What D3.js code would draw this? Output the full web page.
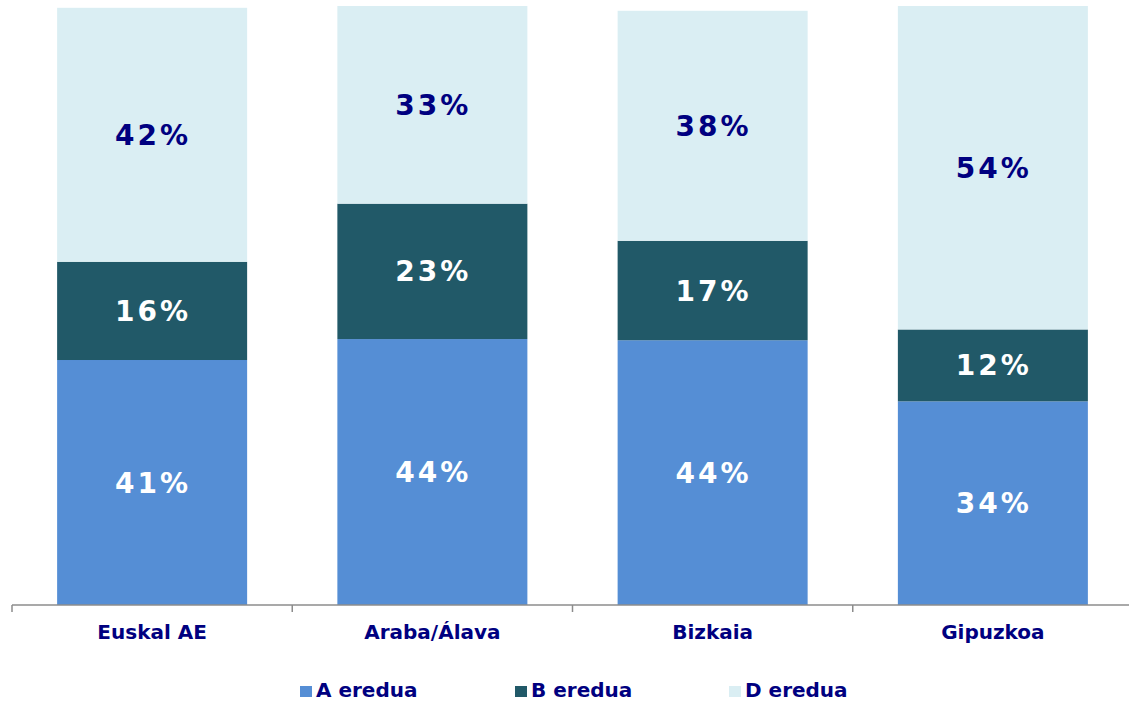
<!DOCTYPE html>
<html>
<head>
<meta charset="utf-8">
<script src="https://cdn.jsdelivr.net/npm/d3@7"></script>
<style>
  html, body { margin: 0; padding: 0; background: #fff; }
  svg { display: block; font-family: "DejaVu Sans", Verdana, sans-serif; }
</style>
</head>
<body>
<svg id="chart" width="1129" height="702"></svg>
<script>
// ---- data ----
const categories = ["Euskal AE", "Araba/Álava", "Bizkaia", "Gipuzkoa"];
const seriesNames = ["A eredua", "B eredua", "D eredua"];
const aEredua = [40.9, 44.4, 44.2, 34.0];
const bEredua = [16.4, 22.6, 16.6, 12.0];
const dEredua = [42.4, 33.0, 38.4, 54.0];
const yDomain = [0, 100];

// ---- styling ----
const colors = ["#558ED5", "#215968", "#DAEEF3"];
const labelColors = ["#ffffff", "#ffffff", "#000080"];

const rows = categories.map((c, i) => ({
  cat: c, "A eredua": aEredua[i], "B eredua": bEredua[i], "D eredua": dEredua[i]
}));
const stack = d3.stack().keys(seriesNames)(rows);

const svg = d3.select("#chart");
const x = d3.scaleBand().domain(categories).range([12, 1133])
  .paddingInner(0.322).paddingOuter(0.161);
const y = d3.scaleLinear().domain(yDomain).range([605, 6]);

// bars
const layers = svg.append("g").selectAll("g").data(stack).join("g")
  .attr("fill", (d, i) => colors[i]);
layers.selectAll("rect").data(d => d).join("rect")
  .attr("x", d => x(d.data.cat))
  .attr("width", x.bandwidth())
  .attr("y", d => y(d[1]))
  .attr("height", d => y(d[0]) - y(d[1]));

// value labels
const lbl = svg.append("g").selectAll("g").data(stack).join("g")
  .attr("fill", (d, i) => labelColors[i]);
lbl.selectAll("text").data(d => d).join("text")
  .attr("x", d => x(d.data.cat) + x.bandwidth() / 2 + 1)
  .attr("y", d => (y(d[0]) + y(d[1])) / 2)
  .attr("dy", "0.36em")
  .attr("text-anchor", "middle")
  .attr("font-size", 28)
  .attr("font-weight", "bold")
  .attr("letter-spacing", 3)
  .text(d => Math.round(d[1] - d[0]) + "%");

// x axis: baseline line with ticks at band boundaries
const axisG = svg.append("g").attr("transform", "translate(0,605)");
const step = x.step();
const bounds = d3.range(categories.length + 1).map(i => 12 + i * step);
axisG.append("line")
  .attr("x1", 12).attr("x2", 1133).attr("y1", 0).attr("y2", 0)
  .attr("stroke", "#8C8C8C").attr("stroke-width", 1.5);
axisG.selectAll("line.tick").data(bounds).join("line")
  .attr("class", "tick")
  .attr("x1", d => d).attr("x2", d => d)
  .attr("y1", 0).attr("y2", 7)
  .attr("stroke", "#8C8C8C").attr("stroke-width", 1.5);
axisG.selectAll("text").data(categories).join("text")
  .attr("x", d => x(d) + x.bandwidth() / 2)
  .attr("y", 34)
  .attr("text-anchor", "middle")
  .attr("font-size", 20)
  .attr("font-weight", "bold")
  .attr("fill", "#000080")
  .text(d => d);

// legend
const legendX = [300, 515, 729];
const leg = svg.append("g").selectAll("g").data(seriesNames).join("g")
  .attr("transform", (d, i) => `translate(${legendX[i]},686)`);
leg.append("rect").attr("width", 12).attr("height", 11)
  .attr("fill", (d, i) => colors[i]);
leg.append("text").attr("x", 16).attr("y", 11)
  .attr("font-size", 20).attr("font-weight", "bold")
  .attr("fill", "#000080")
  .text(d => d);
</script>
</body>
</html>
